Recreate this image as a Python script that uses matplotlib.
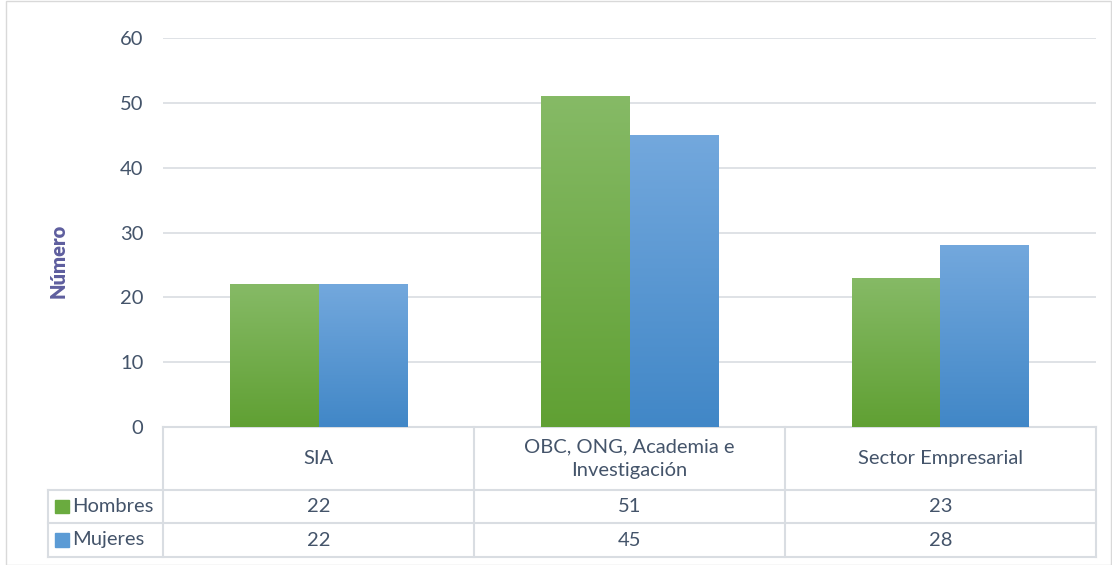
import numpy as np
import matplotlib.pyplot as plt
from matplotlib.lines import Line2D
from matplotlib.patches import Rectangle
from matplotlib.colors import LinearSegmentedColormap

plt.rcParams['font.family'] = ['Lato', 'DejaVu Sans']

# data
categories = ["SIA", "OBC, ONG, Academia e\nInvestigación", "Sector Empresarial"]
series = ["Hombres", "Mujeres"]
hombres = [22, 51, 23]
mujeres = [22, 45, 28]
values = [hombres, mujeres]

# colours (top, bottom of gradient)
grads = [("#86BA66", "#60A033"), ("#73A8DD", "#4187C7")]
solid = ["#6AAB3F", "#5B9BD5"]
txt = "#44546A"
grid_c = "#D9DDE2"
fs = 14.5

fig = plt.figure(figsize=(11.12, 5.65), dpi=100)
W, H = 1112, 565
ax = fig.add_axes([163 / W, 1 - 427 / H, (1096 - 163) / W, (427 - 38) / H])

x = np.arange(len(categories))
bw = 0.286
for k, (name, vals) in enumerate(zip(series, values)):
    offs = (k - 0.5) * bw
    bars = ax.bar(x + offs, vals, bw, color=solid[k], zorder=2, linewidth=0)
    cmap = LinearSegmentedColormap.from_list("g%d" % k, [grads[k][1], grads[k][0]])
    for b in bars:
        x0, w, h = b.get_x(), b.get_width(), b.get_height()
        grad = np.linspace(0, 1, 256).reshape(-1, 1)
        im = ax.imshow(grad, cmap=cmap, origin="lower", aspect="auto",
                       extent=[x0, x0 + w, 0, h], zorder=3)
        im.set_clip_path(b)

ax.set_xlim(-0.5, len(categories) - 0.5)
ax.set_ylim(0, 60)
ax.set_yticks(range(0, 61, 10))
ax.yaxis.grid(True, color=grid_c, linewidth=1.2, zorder=0)
ax.set_axisbelow(True)
for s in ax.spines.values():
    s.set_visible(False)
ax.tick_params(axis="y", length=0, labelsize=fs, labelcolor=txt, pad=14)
ax.set_xticks([])
ax.set_ylabel("Número", fontsize=fs, fontweight="heavy", color="#5E5E9E")
ax.yaxis.set_label_coords(-0.102, 0.427)

# data table
ah = 427 - 38
y_hdr = -(490 - 427) / ah
y_r1 = -(523 - 427) / ah
y_r2 = -(557 - 427) / ah
x_leg = (48 - 163) / (1096 - 163)
bt = ax.get_xaxis_transform()
tr = ax.transAxes

def hline(x0, x1, y, trans):
    ax.add_line(Line2D([x0, x1], [y, y], transform=trans, color=grid_c, lw=1.5, clip_on=False))

def vline(xv, y0, y1, trans):
    ax.add_line(Line2D([xv, xv], [y0, y1], transform=trans, color=grid_c, lw=1.5, clip_on=False))

hline(0, 1, 0, tr)
hline(x_leg, 1, y_hdr, tr)
hline(x_leg, 1, y_r1, tr)
hline(x_leg, 1, y_r2, tr)
for b in np.arange(len(categories) + 1) - 0.5:
    vline(b, 0, y_r2, bt)
vline(x_leg, y_hdr, y_r2, tr)

for i, c in enumerate(categories):
    ax.text(i, y_hdr / 2, c, transform=bt, ha="center", va="center",
            fontsize=fs, color=txt, linespacing=1.5)

rows_y = [(y_hdr + y_r1) / 2, (y_r1 + y_r2) / 2]
for k, (name, vals) in enumerate(zip(series, values)):
    yy = rows_y[k]
    ax.add_patch(Rectangle((x_leg + 0.008, yy - 0.017), 0.014, 0.034, transform=tr,
                           color=solid[k], clip_on=False))
    ax.text(x_leg + 0.026, yy, name, transform=tr, ha="left", va="center",
            fontsize=fs, color=txt)
    for i, v in enumerate(vals):
        ax.text(i, yy, str(v), transform=bt, ha="center", va="center",
                fontsize=fs, color=txt)

# chart border
fig.add_artist(Rectangle((6 / W, 0), 1 - 7 / W, 1 - 1 / H, transform=fig.transFigure,
                         fill=False, edgecolor="#D9D9D9", lw=1))

fig.savefig("out.png", dpi=100, facecolor="white")
